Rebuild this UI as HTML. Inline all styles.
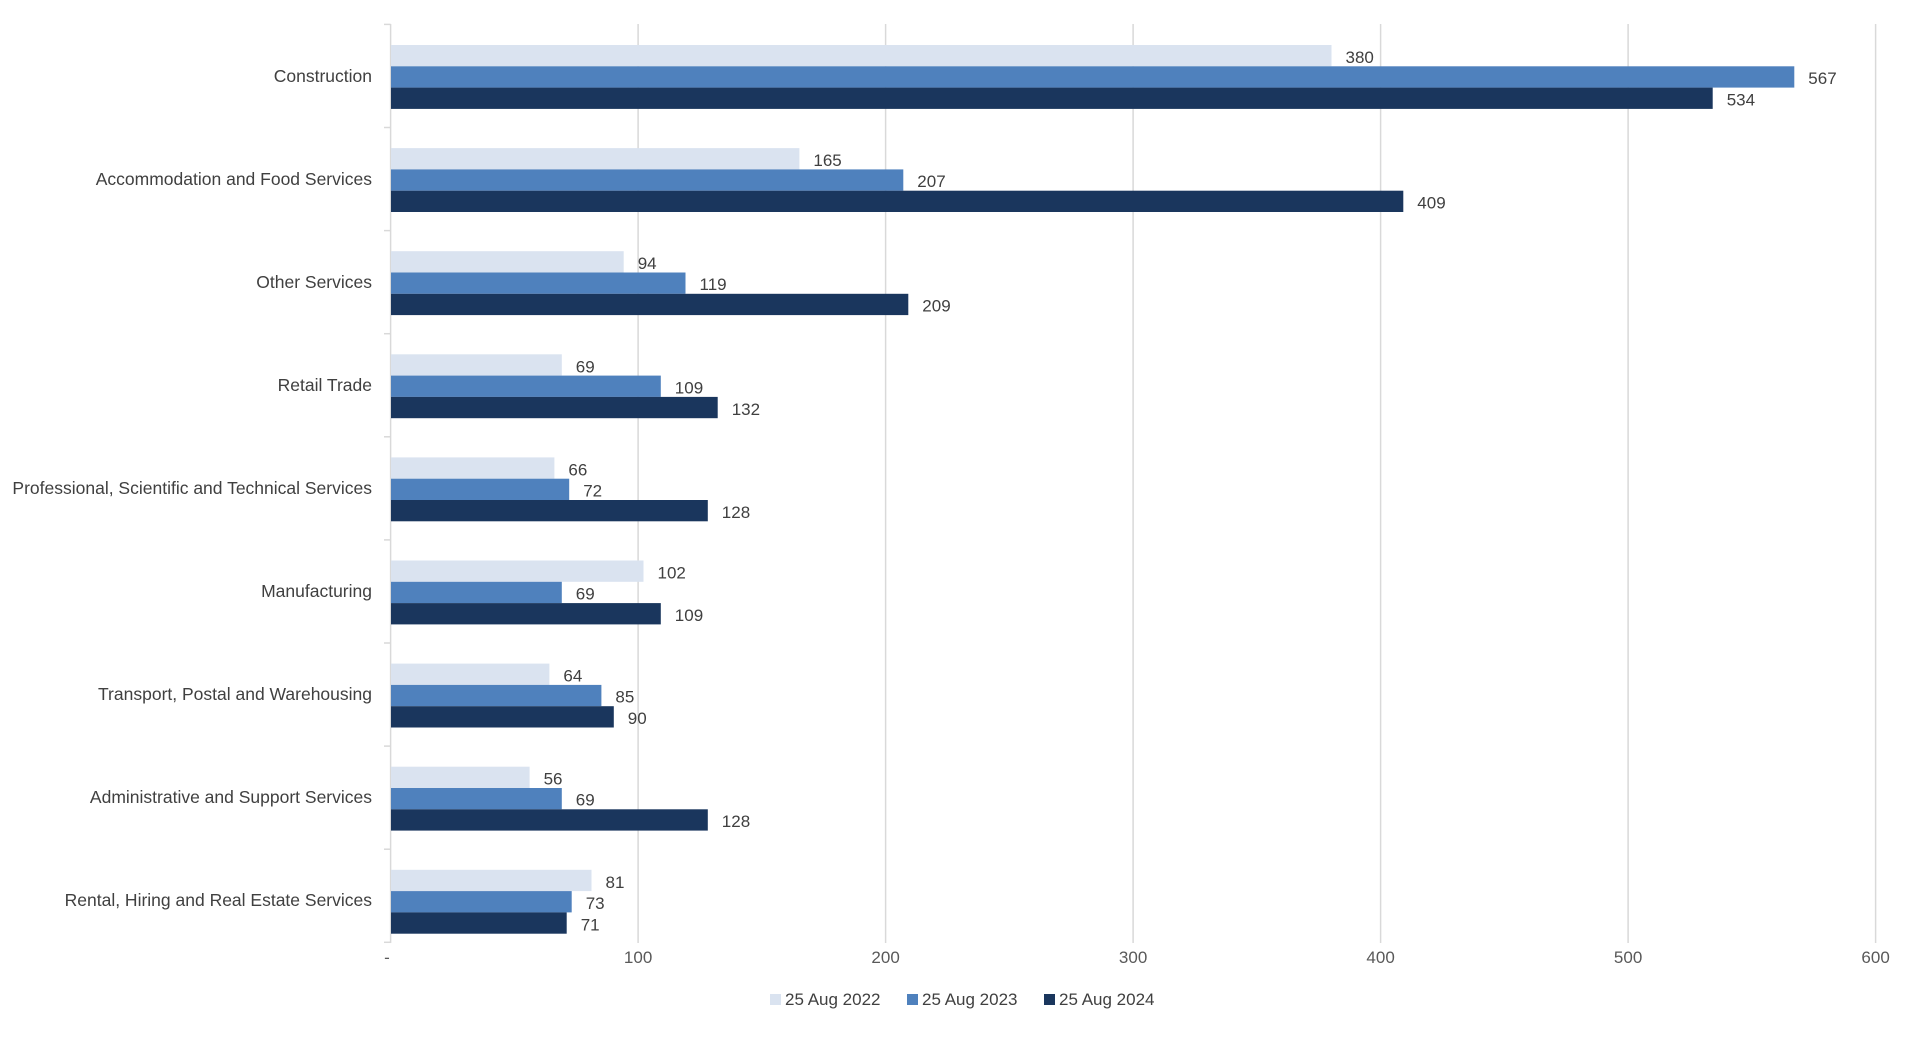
<!DOCTYPE html>
<html><head><meta charset="utf-8"><style>
html,body{margin:0;padding:0;background:#fff;}
svg{display:block;font-family:"Liberation Sans",sans-serif;}
.c{font-size:17.5px;fill:#404040;text-anchor:end;}
.v{font-size:17px;fill:#404040;}
.t{font-size:17px;fill:#595959;text-anchor:middle;}
</style></head><body>
<svg width="1920" height="1047" viewBox="0 0 1920 1047">
<g stroke="#d9d9d9" stroke-width="1.5">
<line x1="638.1" y1="24" x2="638.1" y2="943"/>
<line x1="885.6" y1="24" x2="885.6" y2="943"/>
<line x1="1133.1" y1="24" x2="1133.1" y2="943"/>
<line x1="1380.6" y1="24" x2="1380.6" y2="943"/>
<line x1="1628.1" y1="24" x2="1628.1" y2="943"/>
<line x1="1875.6" y1="24" x2="1875.6" y2="943"/>
<line x1="390.6" y1="24" x2="390.6" y2="943"/>
<line x1="384" y1="24.4" x2="390.6" y2="24.4"/>
<line x1="384" y1="127.5" x2="390.6" y2="127.5"/>
<line x1="384" y1="230.6" x2="390.6" y2="230.6"/>
<line x1="384" y1="333.7" x2="390.6" y2="333.7"/>
<line x1="384" y1="436.8" x2="390.6" y2="436.8"/>
<line x1="384" y1="539.9" x2="390.6" y2="539.9"/>
<line x1="384" y1="643" x2="390.6" y2="643"/>
<line x1="384" y1="746.1" x2="390.6" y2="746.1"/>
<line x1="384" y1="849.2" x2="390.6" y2="849.2"/>
<line x1="384" y1="942.3" x2="390.6" y2="942.3"/>
</g>
<g transform="translate(391,77)"><rect y="-32" width="940.5" height="21.3" fill="#dae3f0"/><rect y="-10.7" width="1403.3" height="21.3" fill="#4f81bd"/><rect y="10.6" width="1321.7" height="21.3" fill="#1a365d"/>
<text class="v" x="954.5" y="-14">380</text><text class="v" x="1417.3" y="7">567</text><text class="v" x="1335.7" y="28.5">534</text></g>
<g transform="translate(391,180.1)"><rect y="-32" width="408.4" height="21.3" fill="#dae3f0"/><rect y="-10.7" width="512.3" height="21.3" fill="#4f81bd"/><rect y="10.6" width="1012.3" height="21.3" fill="#1a365d"/>
<text class="v" x="422.4" y="-14">165</text><text class="v" x="526.3" y="7">207</text><text class="v" x="1026.3" y="28.5">409</text></g>
<g transform="translate(391,283.2)"><rect y="-32" width="232.7" height="21.3" fill="#dae3f0"/><rect y="-10.7" width="294.5" height="21.3" fill="#4f81bd"/><rect y="10.6" width="517.3" height="21.3" fill="#1a365d"/>
<text class="v" x="246.7" y="-14">94</text><text class="v" x="308.5" y="7">119</text><text class="v" x="531.3" y="28.5">209</text></g>
<g transform="translate(391,386.3)"><rect y="-32" width="170.8" height="21.3" fill="#dae3f0"/><rect y="-10.7" width="269.8" height="21.3" fill="#4f81bd"/><rect y="10.6" width="326.7" height="21.3" fill="#1a365d"/>
<text class="v" x="184.8" y="-14">69</text><text class="v" x="283.8" y="7">109</text><text class="v" x="340.7" y="28.5">132</text></g>
<g transform="translate(391,489.4)"><rect y="-32" width="163.4" height="21.3" fill="#dae3f0"/><rect y="-10.7" width="178.2" height="21.3" fill="#4f81bd"/><rect y="10.6" width="316.8" height="21.3" fill="#1a365d"/>
<text class="v" x="177.4" y="-14">66</text><text class="v" x="192.2" y="7">72</text><text class="v" x="330.8" y="28.5">128</text></g>
<g transform="translate(391,592.5)"><rect y="-32" width="252.5" height="21.3" fill="#dae3f0"/><rect y="-10.7" width="170.8" height="21.3" fill="#4f81bd"/><rect y="10.6" width="269.8" height="21.3" fill="#1a365d"/>
<text class="v" x="266.5" y="-14">102</text><text class="v" x="184.8" y="7">69</text><text class="v" x="283.8" y="28.5">109</text></g>
<g transform="translate(391,695.6)"><rect y="-32" width="158.4" height="21.3" fill="#dae3f0"/><rect y="-10.7" width="210.4" height="21.3" fill="#4f81bd"/><rect y="10.6" width="222.8" height="21.3" fill="#1a365d"/>
<text class="v" x="172.4" y="-14">64</text><text class="v" x="224.4" y="7">85</text><text class="v" x="236.8" y="28.5">90</text></g>
<g transform="translate(391,798.7)"><rect y="-32" width="138.6" height="21.3" fill="#dae3f0"/><rect y="-10.7" width="170.8" height="21.3" fill="#4f81bd"/><rect y="10.6" width="316.8" height="21.3" fill="#1a365d"/>
<text class="v" x="152.6" y="-14">56</text><text class="v" x="184.8" y="7">69</text><text class="v" x="330.8" y="28.5">128</text></g>
<g transform="translate(391,901.8)"><rect y="-32" width="200.5" height="21.3" fill="#dae3f0"/><rect y="-10.7" width="180.7" height="21.3" fill="#4f81bd"/><rect y="10.6" width="175.7" height="21.3" fill="#1a365d"/>
<text class="v" x="214.5" y="-14">81</text><text class="v" x="194.7" y="7">73</text><text class="v" x="189.7" y="28.5">71</text></g>
<text class="c" x="372" y="82">Construction</text>
<text class="c" x="372" y="185">Accommodation and Food Services</text>
<text class="c" x="372" y="288">Other Services</text>
<text class="c" x="372" y="391">Retail Trade</text>
<text class="c" x="372" y="494">Professional, Scientific and Technical Services</text>
<text class="c" x="372" y="597">Manufacturing</text>
<text class="c" x="372" y="700">Transport, Postal and Warehousing</text>
<text class="c" x="372" y="803">Administrative and Support Services</text>
<text class="c" x="372" y="906">Rental, Hiring and Real Estate Services</text>
<text class="t" x="387" y="963">-</text>
<text class="t" x="638.1" y="963">100</text>
<text class="t" x="885.6" y="963">200</text>
<text class="t" x="1133.1" y="963">300</text>
<text class="t" x="1380.6" y="963">400</text>
<text class="t" x="1628.1" y="963">500</text>
<text class="t" x="1875.6" y="963">600</text>
<rect x="770" y="994" width="11" height="11" fill="#dae3f0"/><text class="v" x="785" y="1005">25 Aug 2022</text>
<rect x="907" y="994" width="11" height="11" fill="#4f81bd"/><text class="v" x="922" y="1005">25 Aug 2023</text>
<rect x="1044" y="994" width="11" height="11" fill="#1a365d"/><text class="v" x="1059" y="1005">25 Aug 2024</text>
</svg>
</body></html>
